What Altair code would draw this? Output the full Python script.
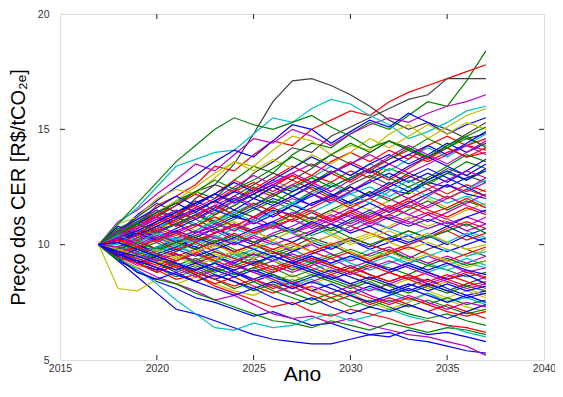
import altair as alt
import pandas as pd

years = [2017, 2018, 2019, 2020, 2021, 2022, 2023, 2024, 2025, 2026, 2027,
         2028, 2029, 2030, 2031, 2032, 2033, 2034, 2035, 2036, 2037]

p01 = [10, 10.3, 10.8, 11.2, 11.7, 12.3, 12.6, 13.5, 14.8, 16.2, 17.1, 17.2, 16.9, 16.5, 16.0, 15.4, 15.0, 15.3, 15.0, 14.6, 14.8]
p02 = [10, 10.4, 11.0, 11.2, 11.9, 12.3, 12.0, 12.8, 13.4, 13.1, 13.9, 14.4, 14.2, 14.8, 15.3, 15.0, 15.6, 16.2, 16.0, 17.1, 18.4]
p03 = [10, 10.6, 10.9, 11.7, 12.1, 12.6, 13.4, 13.2, 13.9, 14.5, 14.3, 15.0, 15.4, 15.8, 15.6, 16.2, 16.6, 16.9, 17.2, 17.5, 17.8]
p04 = [10, 10.3, 10.9, 11.4, 11.2, 12.0, 12.6, 12.3, 13.1, 13.6, 14.2, 14.0, 14.7, 15.1, 15.5, 15.9, 16.3, 16.5, 17.2, 17.2, 17.2]
p05 = [10, 11.0, 11.5, 12.2, 12.8, 13.5, 13.2, 13.9, 14.6, 14.4, 15.0, 14.7, 14.3, 14.8, 15.2, 15.5, 15.3, 15.7, 16.0, 16.2, 16.5]
p06 = [10, 10.9, 11.6, 12.5, 13.4, 13.7, 14.0, 14.1, 14.8, 15.5, 15.3, 15.9, 16.3, 16.1, 15.6, 15.2, 14.6, 14.9, 15.3, 15.8, 16.0]
p07 = [10, 10.5, 11.3, 11.9, 12.5, 13.0, 13.6, 14.1, 13.8, 14.5, 15.2, 15.0, 14.4, 14.9, 15.4, 15.1, 15.7, 15.3, 14.8, 15.2, 15.5]
p08 = [10, 10.9, 11.2, 12.0, 12.4, 12.2, 12.9, 13.6, 13.4, 14.1, 14.7, 14.5, 13.9, 14.3, 14.1, 14.8, 15.2, 14.6, 15.1, 15.6, 15.9]
p09 = [10, 9.3, 8.9, 8.4, 8.1, 7.7, 7.5, 7.2, 6.9, 7.1, 6.8, 6.5, 6.6, 6.3, 6.1, 6.2, 5.9, 5.8, 5.6, 5.4, 5.3]
p10 = [10, 9.4, 9.0, 8.6, 8.3, 8.0, 7.6, 7.8, 7.4, 7.0, 6.8, 6.9, 6.6, 6.8, 6.5, 6.3, 6.1, 6.0, 5.8, 5.6, 5.2]
p11 = [10, 9.3, 8.6, 7.9, 7.2, 7.0, 6.7, 6.4, 6.1, 5.9, 5.8, 5.7, 5.7, 5.9, 6.1, 6.0, 6.3, 6.1, 6.2, 6.0, 5.8]
p12 = [10, 8.1, 8.0, 8.5, 8.3, 8.6, 8.3, 8.0, 7.8, 8.2, 8.5, 8.1, 7.7, 7.9, 7.5, 7.2, 7.5, 7.9, 7.6, 7.3, 7.1]
p13 = [10, 9.5, 8.8, 8.5, 8.3, 7.9, 7.6, 7.3, 7.0, 6.7, 6.6, 6.4, 6.7, 6.5, 6.3, 6.6, 6.4, 6.2, 6.4, 6.3, 6.1]
p14 = [10, 9.5, 8.9, 8.3, 7.6, 7.0, 6.4, 6.3, 6.6, 6.4, 6.5, 6.8, 7.0, 6.7, 6.9, 7.2, 6.9, 6.7, 6.5, 6.2, 6.0]
p15 = [10, 9.7, 9.2, 8.9, 8.5, 8.7, 8.2, 7.9, 7.6, 7.3, 7.5, 7.1, 6.9, 7.2, 7.0, 6.8, 6.5, 6.7, 6.5, 6.4, 6.2]
p16 = [10, 10.3, 10.1, 10.6, 10.9, 10.5, 10.8, 11.2, 11.0, 11.5, 11.3, 11.8, 12.1, 11.7, 12.0, 12.4, 12.2, 12.7, 12.5, 12.9, 13.2]
p17 = [10, 9.8, 9.5, 9.9, 9.6, 9.3, 9.7, 9.4, 9.1, 9.5, 9.8, 9.4, 9.1, 8.8, 9.2, 9.0, 8.7, 9.1, 8.9, 8.6, 8.8]
p18 = [10, 10.5, 10.9, 10.6, 11.1, 11.6, 11.3, 11.9, 12.4, 12.1, 12.6, 13.0, 12.7, 13.2, 12.9, 13.5, 13.9, 13.6, 14.0, 14.3, 14.1]
p19 = [10, 9.6, 9.9, 9.4, 9.0, 9.3, 8.9, 8.6, 8.9, 8.5, 8.2, 8.5, 8.1, 7.8, 8.1, 7.9, 7.6, 7.9, 7.5, 7.7, 7.4]
p20 = [10, 10.2, 10.6, 10.3, 10.0, 10.4, 10.7, 10.4, 10.1, 10.5, 10.8, 11.2, 10.9, 10.6, 11.0, 10.7, 11.1, 11.4, 11.1, 10.8, 11.2]
p21 = [10, 9.9, 10.3, 10.7, 11.0, 10.6, 11.1, 11.5, 11.2, 10.8, 11.3, 11.0, 11.4, 11.8, 11.5, 11.9, 12.3, 12.0, 11.6, 12.0, 12.4]
p22 = [10, 10.4, 10.0, 9.7, 10.1, 9.8, 9.4, 9.7, 10.0, 9.6, 9.9, 10.3, 10.0, 9.6, 9.3, 9.7, 9.4, 9.8, 10.1, 9.8, 9.5]
p23 = [10, 9.5, 9.2, 8.9, 9.2, 8.8, 8.5, 8.8, 8.4, 8.7, 8.3, 8.0, 8.3, 7.9, 8.2, 7.9, 8.2, 8.5, 8.1, 7.8, 8.0]
p24 = [10, 10.7, 11.1, 11.5, 11.2, 11.8, 12.2, 11.9, 12.5, 12.2, 11.8, 12.3, 12.7, 12.3, 12.8, 13.3, 13.0, 12.6, 13.1, 13.6, 13.3]
p25 = [10, 10.1, 9.7, 9.4, 9.7, 10.1, 10.4, 10.0, 10.4, 10.8, 10.5, 10.1, 10.4, 10.8, 10.5, 10.2, 10.6, 10.3, 10.7, 11.0, 10.7]
p26 = [10, 9.7, 10.0, 10.3, 9.9, 9.6, 9.2, 9.5, 9.8, 9.4, 9.0, 9.3, 9.6, 9.2, 8.9, 9.2, 9.5, 9.2, 8.9, 9.2, 9.0]
p27 = [10, 10.3, 10.7, 11.2, 10.8, 11.3, 11.0, 10.6, 11.1, 11.6, 12.0, 11.7, 12.2, 11.8, 12.3, 12.0, 11.6, 12.1, 12.6, 12.3, 12.7]
p28 = [10, 9.4, 9.0, 9.3, 8.9, 9.2, 9.5, 9.1, 8.8, 8.4, 8.7, 8.3, 8.6, 8.9, 8.5, 8.2, 8.5, 8.1, 8.4, 8.1, 7.8]
p29 = [10, 10.6, 10.2, 10.7, 11.1, 11.4, 11.0, 11.5, 11.2, 11.7, 12.1, 12.5, 12.1, 12.6, 13.0, 12.6, 13.1, 12.8, 13.3, 13.0, 12.7]
p30 = [10, 9.9, 9.6, 9.9, 10.2, 9.8, 10.1, 9.7, 9.4, 9.7, 9.3, 9.6, 9.9, 10.2, 9.8, 10.1, 10.4, 10.0, 9.7, 10.0, 10.3]
p31 = [10, 10.2, 9.8, 10.1, 9.7, 10.1, 10.5, 10.9, 10.5, 10.9, 11.3, 10.9, 10.6, 11.0, 11.4, 11.1, 11.5, 11.9, 11.5, 11.9, 11.6]
p32 = [10, 9.6, 9.2, 8.8, 9.1, 8.7, 8.3, 8.6, 8.2, 7.9, 8.2, 7.8, 7.5, 7.8, 7.4, 7.7, 7.4, 7.1, 7.4, 7.1, 6.8]
p33 = [10, 10.5, 11.0, 10.7, 11.2, 10.9, 11.4, 11.9, 12.3, 12.8, 12.4, 12.9, 13.4, 13.0, 13.5, 13.2, 13.7, 14.2, 13.8, 14.3, 14.8]
p34 = [10, 9.8, 10.2, 10.5, 10.2, 9.9, 10.3, 10.0, 10.4, 10.1, 9.7, 10.0, 9.6, 9.3, 9.6, 9.9, 9.5, 9.2, 9.5, 9.2, 9.5]
p35 = [10, 10.4, 10.8, 10.4, 10.0, 10.3, 10.7, 11.0, 10.6, 10.2, 10.6, 10.9, 10.5, 10.1, 10.4, 10.8, 11.2, 10.8, 11.1, 11.5, 11.8]
p36 = [10, 9.5, 9.9, 9.5, 9.1, 8.7, 9.0, 8.7, 9.0, 9.3, 8.9, 9.2, 8.8, 9.1, 8.7, 8.4, 8.7, 8.3, 8.0, 8.3, 8.6]
p37 = [10, 10.8, 10.4, 11.0, 11.5, 11.1, 11.6, 12.0, 11.6, 11.2, 11.7, 11.4, 11.0, 11.4, 11.8, 11.4, 11.8, 12.2, 12.6, 12.2, 12.0]
p38 = [10, 9.3, 9.6, 9.2, 8.8, 9.1, 8.7, 8.4, 8.0, 8.3, 7.9, 7.6, 7.9, 7.6, 7.3, 7.6, 7.3, 7.6, 7.3, 7.0, 7.2]
p39 = [10, 10.1, 10.5, 10.9, 11.3, 11.8, 12.2, 12.8, 12.4, 12.9, 13.4, 13.0, 13.6, 14.0, 13.6, 14.1, 13.7, 14.3, 14.7, 14.3, 14.6]
p40 = [10, 9.7, 9.3, 9.6, 9.9, 10.2, 9.8, 9.4, 9.8, 10.1, 9.8, 9.4, 9.1, 9.4, 9.8, 9.5, 9.1, 8.8, 9.1, 9.4, 9.1]
p41 = [10, 10.2, 10.5, 10.1, 10.5, 10.9, 10.6, 10.2, 10.6, 11.0, 11.4, 11.1, 11.5, 11.2, 10.8, 11.2, 10.9, 11.3, 10.9, 11.2, 10.9]
p42 = [10, 9.9, 9.5, 9.2, 8.9, 9.2, 9.6, 9.3, 9.7, 9.3, 9.0, 8.7, 9.0, 8.6, 8.3, 8.0, 8.3, 8.0, 7.7, 8.0, 7.7]
p43 = [10, 10.6, 11.2, 11.8, 11.4, 11.9, 11.5, 12.1, 12.6, 13.1, 12.8, 13.3, 13.9, 13.5, 14.0, 14.5, 14.2, 13.8, 14.3, 14.8, 15.3]
p44 = [10, 10.3, 10.0, 9.6, 9.9, 10.3, 10.7, 10.3, 10.0, 10.4, 10.1, 10.5, 10.9, 10.5, 10.8, 10.4, 10.1, 10.4, 10.0, 10.4, 10.1]
p45 = [10, 9.6, 9.3, 9.0, 8.6, 8.9, 8.5, 8.1, 8.4, 8.0, 7.7, 7.4, 7.7, 7.3, 7.6, 7.3, 7.0, 6.8, 7.0, 6.7, 6.5]
p46 = [10, 10.4, 10.9, 11.3, 11.7, 12.2, 11.8, 12.3, 12.7, 12.3, 12.8, 12.4, 12.0, 12.5, 12.1, 12.6, 13.0, 12.6, 12.2, 12.6, 12.3]
p47 = [10, 9.8, 10.1, 9.8, 10.2, 10.6, 10.3, 10.7, 10.4, 10.8, 11.1, 10.8, 10.4, 10.8, 11.1, 10.7, 10.4, 10.7, 11.0, 10.6, 10.3]
p48 = [10, 10.1, 9.7, 9.3, 9.6, 9.2, 9.5, 9.1, 8.8, 9.1, 8.8, 9.1, 9.4, 9.0, 9.3, 8.9, 9.2, 9.5, 9.2, 8.8, 9.0]
p49 = [10, 10.6, 11.0, 11.4, 11.9, 12.5, 13.1, 13.6, 13.2, 13.7, 13.3, 13.9, 13.5, 14.0, 14.6, 14.2, 14.7, 15.2, 14.8, 15.3, 15.0]
p50 = [10, 9.4, 8.8, 8.5, 8.8, 8.4, 8.1, 7.8, 8.1, 7.7, 7.4, 7.7, 7.3, 7.0, 7.3, 7.1, 7.4, 7.1, 6.8, 7.1, 7.4]
p51 = [10, 10.4, 10.8, 11.3, 11.0, 11.5, 11.9, 12.4, 12.0, 12.5, 13.0, 12.6, 13.1, 13.6, 13.2, 13.7, 14.1, 13.7, 14.2, 13.8, 14.0]
p52 = [10, 9.7, 9.4, 9.8, 10.2, 9.9, 9.5, 9.2, 9.6, 9.3, 9.7, 10.1, 9.8, 10.2, 9.9, 10.3, 10.0, 10.4, 10.8, 10.4, 10.7]
p53 = [10, 10.2, 10.6, 11.0, 11.4, 11.1, 10.7, 11.1, 11.5, 11.9, 11.5, 11.1, 11.5, 11.9, 12.3, 11.9, 12.3, 12.7, 13.1, 12.8, 13.2]
p54 = [10, 9.5, 9.1, 9.4, 9.0, 8.6, 8.9, 9.2, 8.8, 8.5, 8.1, 8.4, 8.7, 8.3, 8.0, 8.3, 8.6, 8.3, 8.6, 8.9, 8.5]
p55 = [10, 10.5, 10.2, 9.8, 10.2, 10.6, 11.0, 11.4, 11.8, 11.4, 11.8, 12.2, 12.6, 12.2, 12.5, 12.1, 12.5, 12.1, 11.8, 12.1, 11.7]
p56 = [10, 9.8, 9.4, 9.0, 9.3, 9.7, 9.3, 9.6, 9.2, 8.9, 9.2, 9.5, 9.1, 8.8, 9.1, 8.8, 8.5, 8.8, 8.5, 8.2, 8.4]
p57 = [10, 10.3, 10.7, 10.3, 10.7, 11.1, 11.5, 11.2, 11.6, 12.0, 11.7, 12.1, 12.5, 12.9, 13.3, 12.9, 13.4, 13.8, 13.4, 13.0, 13.5]
p58 = [10, 9.6, 10.0, 10.4, 10.0, 10.3, 9.9, 10.2, 10.6, 10.2, 10.6, 10.2, 9.9, 10.2, 10.5, 10.1, 9.8, 10.1, 9.8, 9.5, 9.8]
p59 = [10, 10.1, 10.4, 10.8, 10.5, 10.1, 10.5, 10.9, 10.6, 10.9, 10.5, 10.8, 11.2, 11.6, 11.2, 11.6, 11.3, 11.0, 11.4, 11.8, 12.2]
p60 = [10, 9.4, 9.7, 9.3, 9.6, 9.2, 8.8, 9.1, 9.4, 9.0, 8.6, 8.9, 8.5, 8.2, 8.5, 8.2, 7.9, 8.2, 7.9, 8.2, 8.0]
p61 = [10, 10.6, 11.1, 11.6, 12.1, 11.7, 12.2, 12.7, 12.3, 12.8, 13.3, 13.8, 13.4, 13.0, 13.5, 13.9, 13.5, 13.9, 14.4, 14.0, 14.4]
p62 = [10, 9.9, 10.2, 9.8, 9.5, 9.8, 10.1, 10.5, 10.1, 9.8, 10.1, 9.7, 9.4, 9.7, 9.3, 9.6, 9.9, 9.6, 9.3, 9.6, 9.9]
p63 = [10, 10.3, 9.9, 10.3, 10.6, 10.9, 10.5, 10.8, 11.2, 10.8, 10.5, 10.9, 11.3, 10.9, 11.3, 11.7, 11.3, 11.7, 12.1, 11.7, 11.4]
p64 = [10, 9.5, 9.8, 9.4, 9.1, 9.4, 9.0, 8.7, 9.0, 8.7, 8.4, 8.7, 8.4, 8.1, 8.4, 8.0, 7.7, 7.4, 7.7, 7.4, 7.6]
p65 = [10, 10.4, 10.1, 10.5, 10.9, 11.3, 11.7, 11.3, 10.9, 11.3, 11.7, 12.2, 11.8, 12.3, 12.7, 13.1, 12.7, 13.1, 12.7, 13.2, 13.7]
p66 = [10, 10.0, 9.6, 9.9, 10.3, 10.0, 10.4, 10.1, 10.5, 10.9, 10.5, 10.2, 9.9, 10.3, 10.0, 9.7, 10.0, 10.4, 10.1, 10.5, 10.2]
p67 = [10, 10.2, 10.7, 11.1, 10.8, 11.2, 11.7, 11.3, 11.8, 11.4, 11.0, 11.4, 11.0, 11.5, 11.1, 11.5, 11.9, 11.5, 11.2, 11.6, 11.3]
p68 = [10, 9.7, 9.3, 9.0, 8.7, 9.0, 8.6, 8.9, 8.5, 8.2, 7.9, 8.2, 7.9, 8.2, 7.8, 7.5, 7.8, 7.5, 7.2, 7.5, 7.3]
p69 = [10, 10.5, 10.9, 11.4, 11.8, 11.4, 11.9, 11.5, 12.0, 12.5, 12.1, 12.6, 12.2, 11.8, 12.2, 12.7, 12.3, 12.8, 13.2, 12.8, 13.3]
p70 = [10, 9.8, 10.1, 10.5, 10.1, 9.8, 10.2, 9.8, 9.5, 9.8, 9.5, 9.2, 9.5, 9.8, 9.5, 9.8, 9.4, 9.1, 9.4, 9.1, 9.3]
p71 = [10, 10.1, 10.5, 10.9, 11.3, 11.7, 11.3, 11.7, 12.2, 12.6, 13.0, 12.6, 13.1, 12.7, 13.2, 12.8, 13.3, 13.8, 14.2, 13.8, 14.2]
p72 = [10, 9.6, 9.2, 9.5, 9.2, 8.9, 9.2, 8.8, 8.5, 8.8, 9.1, 8.8, 8.5, 8.8, 8.5, 8.8, 9.1, 8.8, 8.5, 8.7, 8.3]
p73 = [10, 10.3, 10.0, 10.4, 10.1, 10.5, 10.9, 10.6, 11.0, 10.7, 11.1, 10.7, 11.1, 10.8, 11.2, 11.6, 12.0, 11.6, 12.0, 12.4, 12.9]
p74 = [10, 9.9, 9.5, 9.2, 9.5, 9.1, 9.4, 9.7, 9.4, 9.7, 10.0, 9.7, 10.1, 9.7, 9.4, 9.7, 9.3, 9.6, 9.3, 9.0, 9.3]
p75 = [10, 10.7, 10.3, 10.8, 11.2, 10.8, 11.3, 11.7, 12.2, 11.8, 12.3, 12.7, 13.2, 12.8, 13.3, 13.7, 14.2, 13.8, 14.3, 14.7, 14.2]
p76 = [10, 9.5, 9.2, 8.8, 9.1, 8.8, 8.5, 8.2, 8.5, 8.1, 8.4, 8.0, 7.7, 8.0, 7.7, 7.4, 7.7, 7.4, 7.1, 6.9, 7.1]
p77 = [10, 10.2, 10.5, 10.2, 10.6, 10.3, 10.0, 10.3, 10.7, 11.0, 10.6, 11.0, 10.7, 11.1, 11.5, 11.1, 10.8, 11.1, 10.8, 11.2, 11.5]
p78 = [10, 9.8, 9.4, 9.7, 10.0, 9.6, 9.3, 9.6, 9.2, 9.5, 9.2, 8.9, 9.2, 9.5, 9.2, 9.5, 9.2, 9.5, 9.8, 9.5, 9.7]
p79 = [10, 10.4, 10.8, 11.2, 10.9, 11.3, 11.7, 12.1, 11.7, 12.2, 12.6, 12.2, 11.9, 12.3, 12.8, 12.4, 12.0, 12.4, 12.8, 13.2, 12.9]
p80 = [10, 9.7, 9.9, 9.6, 9.3, 9.6, 9.3, 9.0, 9.3, 9.0, 9.3, 9.0, 8.7, 9.0, 8.7, 8.4, 8.7, 8.4, 8.7, 8.4, 8.1]
p81 = [10, 10.9, 11.8, 12.7, 13.6, 14.3, 15.0, 15.5, 15.2, 15.0, 15.3, 15.6, 15.1, 14.7, 14.2, 14.5, 14.1, 13.8, 14.2, 14.6, 14.3]
p82 = [10, 10.3, 10.6, 11.0, 11.4, 11.8, 12.2, 11.8, 12.2, 12.6, 12.3, 12.7, 13.1, 13.5, 13.1, 13.5, 13.9, 14.3, 13.9, 14.4, 14.9]
p83 = [10, 9.6, 9.9, 10.2, 9.8, 10.1, 9.7, 9.4, 9.1, 8.8, 9.1, 9.4, 9.1, 8.8, 8.5, 8.8, 8.5, 8.2, 8.5, 8.8, 8.6]
p84 = [10, 10.5, 10.9, 10.5, 10.9, 11.3, 10.9, 11.3, 11.7, 12.1, 12.5, 12.9, 12.5, 12.9, 13.3, 12.9, 12.5, 12.9, 13.4, 13.9, 13.6]
p85 = [10, 9.9, 9.6, 9.3, 9.6, 9.3, 9.0, 9.3, 9.6, 9.3, 9.6, 9.3, 9.0, 8.7, 9.0, 9.3, 9.0, 8.7, 8.4, 8.1, 8.3]
p86 = [10, 10.2, 10.4, 10.8, 11.2, 11.5, 11.9, 12.3, 12.0, 11.7, 12.1, 11.7, 12.1, 12.5, 12.1, 12.5, 12.9, 13.3, 12.9, 12.5, 12.1]
p87 = [10, 9.7, 9.4, 9.1, 9.4, 9.7, 10.0, 9.7, 10.0, 9.7, 9.4, 9.7, 10.0, 10.3, 10.0, 9.7, 10.0, 10.3, 10.6, 10.2, 10.5]
p88 = [10, 10.4, 10.1, 10.5, 10.2, 10.6, 11.0, 11.4, 11.0, 11.4, 11.8, 11.4, 11.8, 12.2, 11.8, 12.3, 12.8, 12.4, 12.0, 12.4, 12.8]
p89 = [10, 9.6, 9.3, 9.0, 8.7, 8.4, 8.7, 8.4, 8.1, 8.4, 8.1, 8.4, 8.1, 7.8, 7.5, 7.8, 8.1, 7.8, 7.5, 7.8, 7.5]
p90 = [10, 10.6, 11.0, 11.5, 11.1, 11.6, 12.0, 12.5, 13.0, 12.6, 13.1, 12.7, 12.3, 12.8, 13.3, 13.8, 14.3, 13.9, 13.5, 14.0, 14.5]
p91 = [10, 9.8, 10.1, 9.8, 10.1, 10.4, 10.1, 10.4, 10.1, 10.4, 10.7, 10.4, 10.7, 10.3, 10.0, 10.3, 10.6, 10.3, 10.6, 10.9, 10.5]
p92 = [10, 10.1, 10.4, 10.7, 10.4, 10.8, 11.2, 10.8, 11.2, 11.6, 11.2, 11.6, 12.0, 11.6, 12.0, 11.6, 12.0, 12.4, 12.0, 12.4, 12.1]
p93 = [10, 9.5, 9.8, 9.5, 9.2, 8.9, 9.2, 8.9, 9.2, 9.5, 9.2, 8.9, 8.6, 8.3, 8.6, 8.3, 8.0, 8.3, 8.0, 7.7, 7.9]
p94 = [10, 10.3, 10.7, 11.1, 11.5, 11.1, 11.5, 11.9, 12.3, 12.7, 13.1, 13.5, 13.1, 13.5, 13.9, 13.5, 13.1, 13.5, 13.9, 14.3, 13.9]
p95 = [10, 9.8, 9.5, 9.8, 9.4, 9.7, 10.0, 9.6, 9.9, 10.2, 9.8, 10.1, 10.4, 10.0, 10.3, 10.6, 10.2, 10.5, 10.1, 9.8, 10.0]
p96 = [10, 10.2, 9.9, 10.2, 10.5, 10.2, 10.5, 10.8, 10.5, 10.8, 11.1, 11.5, 11.1, 11.4, 11.0, 11.3, 11.7, 11.3, 11.6, 12.0, 11.6]
p97 = [10, 9.7, 9.5, 9.2, 8.9, 9.2, 8.9, 8.6, 8.9, 8.6, 8.3, 8.6, 8.9, 8.6, 8.3, 8.0, 8.3, 8.0, 8.3, 8.0, 8.2]
p98 = [10, 10.5, 11.0, 11.4, 11.8, 12.3, 12.8, 12.4, 12.8, 13.3, 13.8, 13.4, 13.9, 14.4, 14.0, 14.5, 14.1, 14.6, 14.2, 14.7, 15.1]
p99 = [10, 9.9, 10.3, 10.6, 10.3, 10.6, 10.3, 10.0, 10.3, 10.0, 10.3, 10.6, 10.9, 11.3, 10.9, 11.3, 11.0, 10.7, 11.0, 10.6, 10.9]
p100 = [10, 10.1, 9.8, 9.5, 9.8, 9.5, 9.8, 10.1, 9.8, 9.5, 9.2, 9.5, 9.2, 9.5, 9.2, 8.9, 9.2, 8.9, 9.2, 8.9, 8.7]

paths = [p01, p02, p03, p04, p05, p06, p07, p08, p09, p10,
         p11, p12, p13, p14, p15, p16, p17, p18, p19, p20,
         p21, p22, p23, p24, p25, p26, p27, p28, p29, p30,
         p31, p32, p33, p34, p35, p36, p37, p38, p39, p40,
         p41, p42, p43, p44, p45, p46, p47, p48, p49, p50,
         p51, p52, p53, p54, p55, p56, p57, p58, p59, p60,
         p61, p62, p63, p64, p65, p66, p67, p68, p69, p70,
         p71, p72, p73, p74, p75, p76, p77, p78, p79, p80,
         p81, p82, p83, p84, p85, p86, p87, p88, p89, p90,
         p91, p92, p93, p94, p95, p96, p97, p98, p99, p100]

B, G, R, C, M, Y, K = "#0000FF", "#008000", "#FF0000", "#00BFBF", "#BF00BF", "#BFBF00", "#404040"
path_colors = [K, G, R, K, M, C, B, Y, B, M,
               B, Y, G, C, R, B, G, R, C, M,
               Y, K, B, G, R, C, M, Y, K, B,
               G, R, C, M, Y, K, B, G, R, C,
               M, Y, K, B, G, R, C, M, Y, B,
               R, B, G, M, C, R, B, Y, M, G,
               B, R, M, G, B, C, R, M, B, G,
               R, B, M, Y, G, R, B, C, M, R,
               G, B, R, G, M, B, R, C, B, M,
               G, R, B, M, Y, R, B, G, M, B]

x_ticks = [2020, 2025, 2030, 2035]
y_ticks = [10, 15]
x_labels = [2015, 2020, 2025, 2030, 2035, 2040]
y_labels = [5, 10, 15, 20]

ids = [f"s{i:03d}" for i in range(len(paths))]
rows = []
for pid, vals in zip(ids, paths):
    for yr, v in zip(years, vals):
        rows.append({"path": pid, "ano": yr, "preco": v})
df = pd.DataFrame(rows)

W, H = 484, 346
FONT = "Liberation Sans"
FRAME = "#262626"

xscale = alt.Scale(domain=[2015, 2040], nice=False)
yscale = alt.Scale(domain=[5, 20], nice=False)

lines = alt.Chart(df).mark_line(strokeWidth=1.2, clip=True).encode(
    x=alt.X("ano:Q", scale=xscale, title="Ano",
            axis=alt.Axis(values=x_labels, format="d", labelFlush=False,
                          ticks=False, domain=False, grid=False,
                          labelFont=FONT, labelFontSize=10.5, labelColor="#333333",
                          labelPadding=3, titleFont=FONT, titleFontSize=21,
                          titleFontWeight="normal", titleColor="#000000",
                          titleBaseline="alphabetic", titleY=20)),
    y=alt.Y("preco:Q", scale=yscale, title="Preço dos CER [R$/tCO₂ₑ]",
            axis=alt.Axis(values=y_labels, format="d", labelFlush=False,
                          ticks=False, domain=False, grid=False,
                          labelFont=FONT, labelFontSize=10.5, labelColor="#333333",
                          labelPadding=11, titleFont=FONT, titleFontSize=20,
                          titleFontWeight="normal", titleColor="#000000",
                          titlePadding=9)),
    color=alt.Color("path:N", scale=alt.Scale(domain=ids, range=path_colors), legend=None),
    detail="path:N",
)

xt = pd.DataFrame({"t": x_ticks})
yt = pd.DataFrame({"t": y_ticks})

tick_bottom = alt.Chart(xt).mark_rule(color=FRAME, strokeWidth=1).encode(
    x=alt.X("t:Q", scale=xscale), y=alt.value(H), y2=alt.value(H - 5))
tick_top = alt.Chart(xt).mark_rule(color=FRAME, strokeWidth=1).encode(
    x=alt.X("t:Q", scale=xscale), y=alt.value(0), y2=alt.value(5))
tick_left = alt.Chart(yt).mark_rule(color=FRAME, strokeWidth=1).encode(
    y=alt.Y("t:Q", scale=yscale), x=alt.value(0), x2=alt.value(5))
tick_right = alt.Chart(yt).mark_rule(color=FRAME, strokeWidth=1).encode(
    y=alt.Y("t:Q", scale=yscale), x=alt.value(W), x2=alt.value(W - 5))

chart = alt.layer(lines, tick_bottom, tick_top, tick_left, tick_right).properties(
    width=W, height=H,
    autosize=alt.AutoSizeParams(type="none"),
    padding={"left": 52, "top": 6, "right": 11, "bottom": 23},
).configure_view(stroke=FRAME, strokeWidth=1).configure(background="white")

chart.save("out.html", embed_options={"renderer": "svg", "actions": False})
